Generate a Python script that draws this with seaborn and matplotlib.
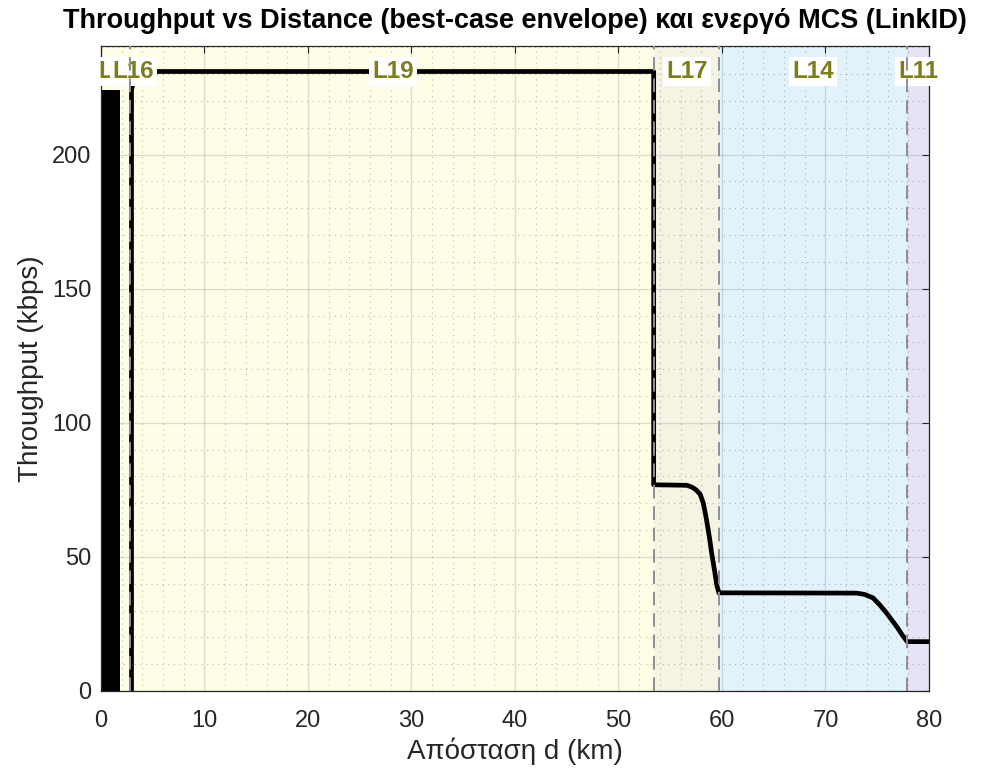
import matplotlib
matplotlib.use("Agg")
import matplotlib.pyplot as plt
import seaborn as sns
import pandas as pd
from matplotlib.ticker import MultipleLocator

# ---------------- data ----------------
region_edges = [0.0, 2.85, 53.45, 59.7, 77.9, 80.0]
region_colors = ["#FEFEE6", "#FEFEE6", "#F5F3E3", "#E2F2FB", "#E7E2F5"]
boundary_x = [2.85, 53.45, 59.7, 77.9]
link_labels = ["L18", "L16", "L19", "L17", "L14", "L11"]
label_x = [1.75, 3.15, 28.2, 56.6, 68.8, 78.95]
label_y = 231

burst_x = [0.0, 1.84]
burst_y = [224, 224]

dist_km = [2.95, 2.95, 3.3, 53.4, 53.4, 56.6, 57.1, 57.5, 57.9, 58.2, 58.5,
           58.8, 59.0, 59.3, 59.5, 59.7, 73.0, 73.8, 74.6, 75.2, 75.9, 76.4,
           76.9, 77.4, 77.9, 80.0]
throughput = [0, 224, 231, 231, 76.9, 76.7, 76.0, 75.0, 73.3, 70.0, 64.0,
              57.0, 51.5, 44.5, 39.5, 36.6, 36.5, 36.0, 34.7, 32.3, 29.1, 26.5,
              23.9, 21.0, 18.4, 18.4]

x_ticks = [0, 10, 20, 30, 40, 50, 60, 70, 80]
y_ticks = [0, 50, 100, 150, 200]

# ---------------- style ----------------
sns.set_theme(style="white")
plt.rcParams["font.family"] = ["Liberation Sans", "DejaVu Sans"]

fig = plt.figure(figsize=(9.87, 7.75), dpi=100)
ax = fig.add_axes([0.1023, 0.1084, 0.8389, 0.8322])

for i in range(len(region_edges) - 1):
    ax.axvspan(region_edges[i], region_edges[i + 1], color=region_colors[i],
               zorder=0, lw=0)

ax.fill_between(burst_x, 0, burst_y, color="black", lw=0, zorder=2)

df = pd.DataFrame({"d": dist_km, "T": throughput})
sns.lineplot(data=df, x="d", y="T", sort=False, estimator=None, color="black",
             lw=3.4, ax=ax, zorder=2)

for lab, lx in zip(link_labels, label_x):
    ax.text(lx, label_y, lab, ha="center", va="center", fontsize=17.5,
            fontweight="bold", color="#7D7D1C", zorder=3,
            bbox=dict(boxstyle="square,pad=0.12", fc="white", ec="none"))

for bx in boundary_x:
    ax.axvline(bx, color="#8E8E9A", lw=1.4, ls=(0, (7, 4)), zorder=4)

ax.set_xlim(0, 80)
ax.set_ylim(0, 240.5)
ax.set_xticks(x_ticks)
ax.set_yticks(y_ticks)
ax.xaxis.set_minor_locator(MultipleLocator(2))
ax.yaxis.set_minor_locator(MultipleLocator(10))
ax.grid(True, which="major", color="#262626", alpha=0.15, lw=0.9)
ax.grid(True, which="minor", color="#262626", alpha=0.3, lw=0.8, ls=(0, (1, 4)))
ax.set_axisbelow(True)

ax.tick_params(which="major", direction="in", top=True, right=True, length=5,
               width=0.8, color="#262626", labelsize=17, labelcolor="#262626")
ax.tick_params(axis="x", which="major", pad=14)
ax.tick_params(axis="y", which="major", pad=7)
ax.tick_params(which="minor", length=0)
for sp in ax.spines.values():
    sp.set_color("#262626")
    sp.set_linewidth(0.9)

ax.set_xlabel("Απόσταση d (km)", fontsize=20, color="#262626", labelpad=4)
ax.set_ylabel("Throughput (kbps)", fontsize=20, color="#262626", labelpad=6)
ax.set_title("Throughput vs Distance (best-case envelope) και ενεργό MCS (LinkID)",
             fontsize=19.5, fontweight="bold", color="black", pad=13)

fig.savefig("out.png", dpi=100)
